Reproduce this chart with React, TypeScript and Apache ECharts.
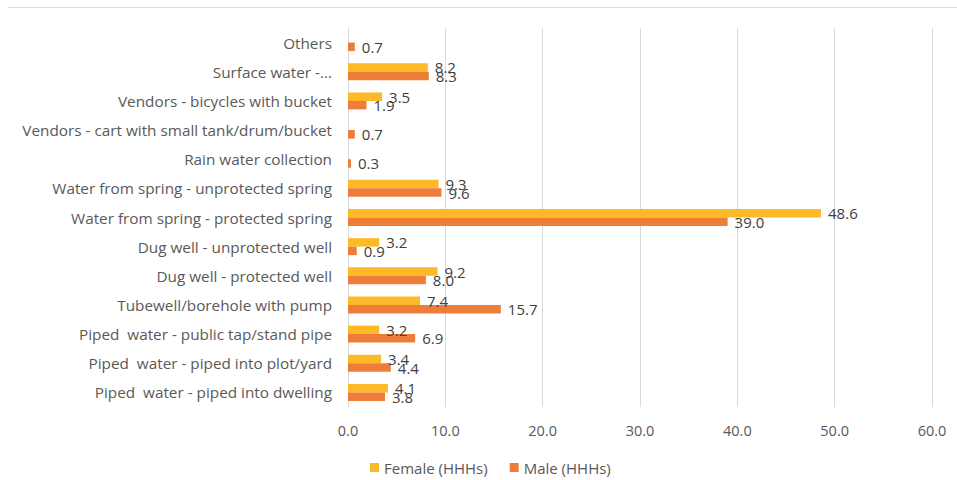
import React, { useEffect, useRef } from "react";
import * as echarts from "echarts";

const categories = [
  "Others",
  "Surface water -...",
  "Vendors - bicycles with bucket",
  "Vendors - cart with small tank/drum/bucket",
  "Rain water collection",
  "Water from spring - unprotected spring",
  "Water from spring - protected spring",
  "Dug well - unprotected well",
  "Dug well - protected well",
  "Tubewell/borehole with pump",
  "Piped  water - public tap/stand pipe",
  "Piped  water - piped into plot/yard",
  "Piped  water - piped into dwelling",
];

const female: (number | null)[] = [null, 8.2, 3.5, null, null, 9.3, 48.6, 3.2, 9.2, 7.4, 3.2, 3.4, 4.1];
const male: (number | null)[] = [0.7, 8.3, 1.9, 0.7, 0.3, 9.6, 39.0, 0.9, 8.0, 15.7, 6.9, 4.4, 3.8];

const xTicks = { min: 0, max: 60, interval: 10 };

const FONT = "'Open Sans', sans-serif";

export default function App() {
  const ref = useRef<HTMLDivElement>(null);
  useEffect(() => {
    if (!ref.current) return;
    const chart = echarts.init(ref.current, null, { renderer: "svg" });
    const label = {
      show: true,
      position: "right" as const,
      distance: 7,
      color: "#404040",
      fontFamily: FONT,
      fontSize: 15,
      formatter: (p: any) => (p.value == null ? "" : Number(p.value).toFixed(1)),
    };
    chart.setOption({
      animation: false,
      backgroundColor: "#ffffff",
      graphic: [
        {
          type: "line",
          shape: { x1: 8, y1: 7.5, x2: 957, y2: 7.5 },
          style: { stroke: "#d9d9d9", lineWidth: 1 },
        },
      ],
      grid: { left: 348, right: 25, top: 28, bottom: 73, containLabel: false },
      legend: {
        left: 370,
        top: 460,
        padding: 0,
        itemWidth: 9,
        itemHeight: 9,
        itemGap: 22,
        icon: "rect",
        textStyle: { color: "#595959", fontFamily: FONT, fontSize: 15 },
        data: ["Female (HHHs)", "Male (HHHs)"],
      },
      xAxis: {
        type: "value",
        min: xTicks.min,
        max: xTicks.max,
        interval: xTicks.interval,
        axisLine: { show: false },
        axisTick: { show: false },
        splitLine: { lineStyle: { color: "#d9d9d9", width: 1 } },
        axisLabel: {
          color: "#595959",
          fontFamily: FONT,
          fontSize: 14.5,
          margin: 16,
          formatter: (v: number) => v.toFixed(1),
        },
      },
      yAxis: {
        type: "category",
        inverse: true,
        data: categories,
        axisLine: { show: true, lineStyle: { color: "#d9d9d9" } },
        axisTick: { show: false },
        axisLabel: { color: "#595959", fontFamily: FONT, fontSize: 15.3, margin: 16 },
      },
      series: [
        {
          name: "Female (HHHs)",
          type: "bar",
          data: female,
          barWidth: 8.5,
          barGap: "0%",
          itemStyle: { color: "#FDB927" },
          label,
        },
        {
          name: "Male (HHHs)",
          type: "bar",
          data: male,
          barWidth: 8.5,
          barGap: "0%",
          itemStyle: { color: "#EE7D3A" },
          label,
        },
      ],
    });
    return () => chart.dispose();
  }, []);
  return (
    <div
      ref={ref}
      style={{ position: "fixed", left: 0, top: 0, width: 957, height: 480 }}
    />
  );
}
